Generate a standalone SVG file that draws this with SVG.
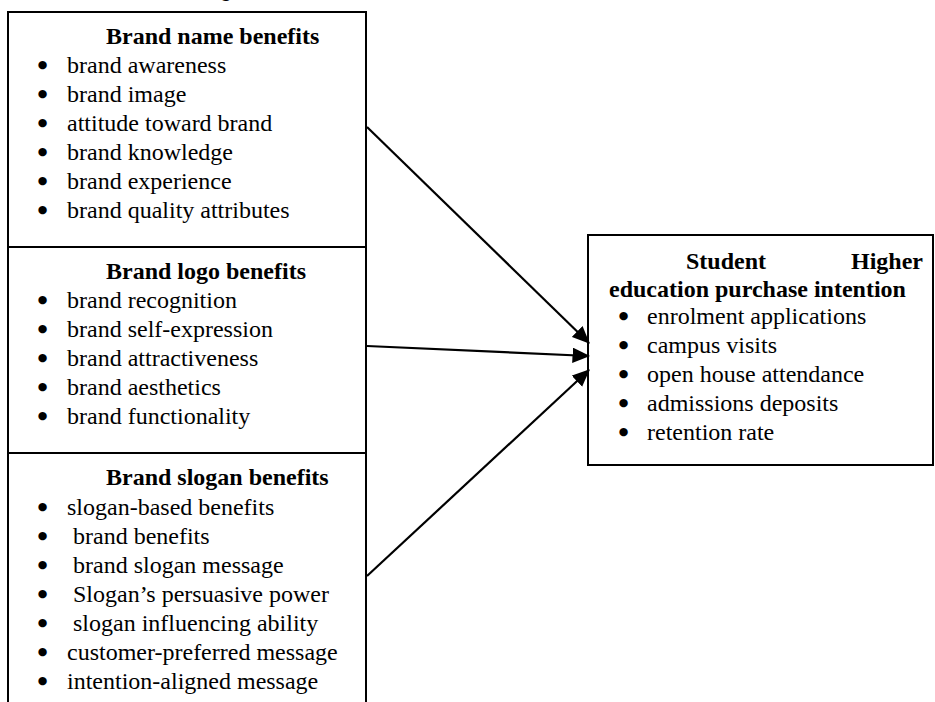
<svg xmlns="http://www.w3.org/2000/svg" width="935" height="702" viewBox="0 0 935 702">
<defs>
<style>
.box{fill:#fff;stroke:#000;stroke-width:2}
.t{font-family:"Liberation Serif","Times New Roman",serif;font-size:24px;fill:#000}
.h{font-weight:bold}
.bu{font-family:"DejaVu Sans",sans-serif;font-size:11px;fill:#000}
.conn line{stroke:#000;stroke-width:2.2}
</style>
<marker id="ah" markerWidth="8" markerHeight="7" refX="7.5" refY="3.5" orient="auto" markerUnits="strokeWidth">
<path d="M0,0 L8,3.5 L0,7 Z" fill="#000"/>
</marker>
</defs>
<rect width="935" height="702" fill="#fff"/>
<text class="t h" x="209" y="-3" style="font-family:'Liberation Sans',Arial,sans-serif;font-size:20px">, g</text>

<g id="brand-name">
<rect class="box" x="8" y="12" width="358" height="235"/>
<text class="t h" x="106" y="44">Brand name benefits</text>
<g class="bu">
<text x="37.8" y="68">●</text><text x="37.8" y="97">●</text><text x="37.8" y="126">●</text>
<text x="37.8" y="155">●</text><text x="37.8" y="184">●</text><text x="37.8" y="213">●</text>
</g>
<g class="t">
<text x="67" y="73">brand awareness</text>
<text x="67" y="102">brand image</text>
<text x="67" y="131">attitude toward brand</text>
<text x="67" y="160">brand knowledge</text>
<text x="67" y="189">brand experience</text>
<text x="67" y="218">brand quality attributes</text>
</g>
</g>

<g id="brand-logo">
<rect class="box" x="8" y="247" width="358" height="206"/>
<text class="t h" x="106" y="279">Brand logo benefits</text>
<g class="bu">
<text x="37.8" y="303">●</text><text x="37.8" y="332">●</text><text x="37.8" y="361">●</text>
<text x="37.8" y="390">●</text><text x="37.8" y="419">●</text>
</g>
<g class="t">
<text x="67" y="308">brand recognition</text>
<text x="67" y="337">brand self-expression</text>
<text x="67" y="366">brand attractiveness</text>
<text x="67" y="395">brand aesthetics</text>
<text x="67" y="424">brand functionality</text>
</g>
</g>

<g id="brand-slogan">
<rect class="box" x="8" y="453" width="358" height="260"/>
<text class="t h" x="106" y="485">Brand slogan benefits</text>
<g class="bu">
<text x="37.8" y="510">●</text><text x="37.8" y="539">●</text><text x="37.8" y="568">●</text>
<text x="37.8" y="597">●</text><text x="37.8" y="626">●</text><text x="37.8" y="655">●</text>
<text x="37.8" y="684">●</text>
</g>
<g class="t">
<text x="67" y="515">slogan-based benefits</text>
<text x="73" y="544">brand benefits</text>
<text x="73" y="573">brand slogan message</text>
<text x="73" y="602">Slogan’s persuasive power</text>
<text x="73" y="631">slogan influencing ability</text>
<text x="67" y="660">customer-preferred message</text>
<text x="67" y="689">intention-aligned message</text>
</g>
</g>

<g id="purchase-intention">
<rect class="box" x="588" y="235" width="345" height="230"/>
<text class="t h" x="686" y="269">Student</text>
<text class="t h" x="923" y="269" text-anchor="end">Higher</text>
<text class="t h" x="609" y="297">education purchase intention</text>
<g class="bu">
<text x="618.8" y="319">●</text><text x="618.8" y="348">●</text><text x="618.8" y="377">●</text>
<text x="618.8" y="406">●</text><text x="618.8" y="435">●</text>
</g>
<g class="t">
<text x="647" y="324">enrolment applications</text>
<text x="647" y="353">campus visits</text>
<text x="647" y="382">open house attendance</text>
<text x="647" y="411">admissions deposits</text>
<text x="647" y="440">retention rate</text>
</g>
</g>

<g id="connectors" class="conn">
<line x1="367" y1="127" x2="589" y2="343" marker-end="url(#ah)"/>
<line x1="367" y1="346" x2="589" y2="356" marker-end="url(#ah)"/>
<line x1="367" y1="576" x2="589" y2="370" marker-end="url(#ah)"/>
</g>
</svg>
